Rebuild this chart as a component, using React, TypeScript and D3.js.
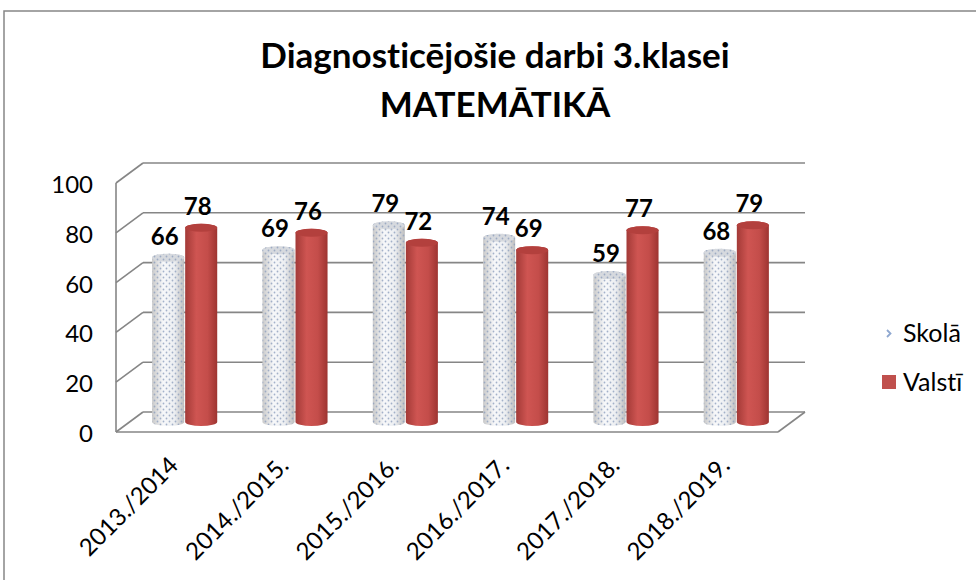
import * as d3 from "d3";

const categories = ["2013./2014", "2014./2015.", "2015./2016.", "2016./2017.", "2017./2018.", "2018./2019."];
const seriesNames = ["Skolā", "Valstī"];
const skola = [66, 69, 79, 74, 59, 68];
const valsti = [78, 76, 72, 69, 77, 79];
const yTicks = [0, 20, 40, 60, 80, 100];

const W = 976;
const H = 580;
const font = "Lato, 'Open Sans', sans-serif";

// floor front edge and depth offset of the 3d box
const x0 = 116;
const x1 = 778;
const dx = 27;
const dy = -20;

const yFront = d3.scaleLinear().domain([0, 100]).range([432, 183]);
const yMid = (v: number) => yFront(v) + dy / 2;

const xBand = d3
  .scaleBand<string>()
  .domain(categories)
  .range([x0 + dx / 2, x1 + dx / 2])
  .paddingInner(0.41)
  .paddingOuter(0.205);

const xInner = d3.scaleBand<string>().domain(seriesNames).range([0, xBand.bandwidth()]).paddingInner(0.03);

const cylinder = (x: number, w: number, v: number) => {
  const rx = w / 2;
  const ry = 4;
  const yb = yMid(0);
  const yt = yMid(v);
  return `M${x},${yt} L${x},${yb} A${rx},${ry} 0 0 0 ${x + w},${yb} L${x + w},${yt} A${rx},${ry} 0 0 0 ${x},${yt} Z`;
};

const Bar = ({ cat, name, v }: { cat: string; name: string; v: number }) => {
  const x = (xBand(cat) ?? 0) + (xInner(name) ?? 0);
  const w = xInner.bandwidth();
  const isSkola = name === "Skolā";
  const yt = yMid(v);
  return (
    <g>
      <path d={cylinder(x, w, v)} fill={isSkola ? "url(#gradGray)" : "url(#gradRed)"} />
      {isSkola && <path d={cylinder(x, w, v)} fill="url(#dots)" />}
      <ellipse cx={x + w / 2} cy={yt} rx={w / 2} ry={4} fill={isSkola ? "#d6d9de" : "#b3403d"} />
      {isSkola && <ellipse cx={x + w / 2} cy={yt} rx={w / 2} ry={4} fill="url(#dots)" />}
      <text
        x={x + w / 2 - 3.5}
        y={yt - 13}
        textAnchor="middle"
        fontFamily={font}
        fontWeight="bold"
        fontSize={24}
        fill="#000"
      >
        {v}
      </text>
    </g>
  );
};

const noLiga = { fontFeatureSettings: '"liga" 0, "clig" 0, "dlig" 0', fontVariantLigatures: "none" };

export default function App() {
  const grid = "#868686";
  return (
    <svg width={W} height={H} style={{ position: "absolute", left: 0, top: 0, ...noLiga }}>
      <defs>
        <linearGradient id="gradRed" x1="0" x2="1" y1="0" y2="0">
          <stop offset="0" stopColor="#a33a37" />
          <stop offset="0.35" stopColor="#cf5552" />
          <stop offset="0.7" stopColor="#c44d4a" />
          <stop offset="1" stopColor="#9e3431" />
        </linearGradient>
        <linearGradient id="gradGray" x1="0" x2="1" y1="0" y2="0">
          <stop offset="0" stopColor="#c9c9c9" />
          <stop offset="0.35" stopColor="#f7f8fa" />
          <stop offset="0.7" stopColor="#eceef1" />
          <stop offset="1" stopColor="#bdbdbd" />
        </linearGradient>
        <pattern id="dots" width={6} height={6} patternUnits="userSpaceOnUse">
          <circle cx={1.5} cy={1.5} r={0.9} fill="#8fa0bd" opacity={0.8} />
          <circle cx={4.5} cy={4.5} r={0.9} fill="#8fa0bd" opacity={0.8} />
        </pattern>
      </defs>
      <rect x={0} y={0} width={W} height={H} fill="#fff" />
      <rect x={4} y={11} width={W + 10} height={H} fill="#fff" stroke={grid} strokeWidth={1.5} />

      <text
        x={495}
        y={68}
        textAnchor="middle"
        fontFamily={font}
        fontWeight="bold"
        fontSize={35}
        letterSpacing={0.01}
        style={noLiga}
      >
        Diagnosticējošie darbi 3.klasei
      </text>
      <text x={495} y={117} textAnchor="middle" fontFamily={font} fontWeight="bold" fontSize={35}>
        MATEMĀTIKĀ
      </text>

      {/* walls and gridlines */}
      <g stroke={grid} strokeWidth={1.6} fill="none">
        {yTicks.map((t) => (
          <g key={t}>
            <line x1={x0 + dx} x2={x1 + dx} y1={yFront(t) + dy} y2={yFront(t) + dy} />
            <line x1={x0} x2={x0 + dx} y1={yFront(t)} y2={yFront(t) + dy} />
          </g>
        ))}
        <line x1={x0} x2={x0} y1={yFront(0)} y2={yFront(100)} />
        <line x1={x0} x2={x1} y1={yFront(0)} y2={yFront(0)} />
        <line x1={x1} x2={x1 + dx} y1={yFront(0)} y2={yFront(0) + dy} />
      </g>

      {yTicks.map((t) => (
        <text key={t} x={93} y={yFront(t) + 10} textAnchor="end" fontFamily={font} fontSize={24}>
          {t}
        </text>
      ))}

      {categories.map((c, i) => (
        <g key={c}>
          <Bar cat={c} name="Skolā" v={skola[i]} />
          <Bar cat={c} name="Valstī" v={valsti[i]} />
        </g>
      ))}

      {categories.map((c) => {
        const cx = (xBand(c) ?? 0) + xBand.bandwidth() / 2;
        return (
          <text
            key={c}
            transform={`translate(${cx - 5},${467}) rotate(-45)`}
            textAnchor="end"
            fontFamily={font}
            fontSize={24}
          >
            {c}
          </text>
        );
      })}

      {/* legend */}
      <g fontFamily={font} fontSize={25}>
        <path d="M887,330 L890.5,333.5 L887,337" stroke="#8fa8d0" strokeWidth={1.8} fill="none" />
        <text x={903} y={342}>{seriesNames[0]}</text>
        <rect x={882} y={375} width={14} height={14} fill="#c0504d" />
        <text x={903} y={391}>{seriesNames[1]}</text>
      </g>
    </svg>
  );
}
